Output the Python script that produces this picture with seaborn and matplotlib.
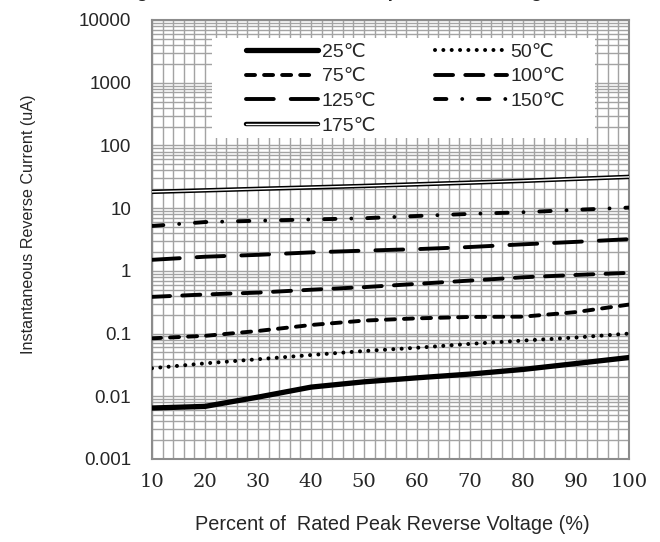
import numpy as np
import pandas as pd
import matplotlib
matplotlib.use("Agg")
import matplotlib.pyplot as plt
import matplotlib.patheffects as pe
from matplotlib.patches import Rectangle
from matplotlib.ticker import LogLocator, NullFormatter, FixedLocator
import seaborn as sns

# ---------------- data ----------------
pct = [10, 20, 30, 40, 50, 60, 70, 80, 90, 100]
i25 = [0.0065, 0.0069, 0.0097, 0.0140, 0.0170, 0.0197, 0.0226, 0.0268, 0.0333, 0.0415]
i50 = [0.028, 0.0335, 0.039, 0.0455, 0.0527, 0.0594, 0.0685, 0.0773, 0.0865, 0.100]
i75 = [0.084, 0.092, 0.110, 0.137, 0.161, 0.175, 0.184, 0.186, 0.220, 0.290]
i100 = [0.385, 0.42, 0.45, 0.50, 0.55, 0.62, 0.70, 0.79, 0.86, 0.93]
i125 = [1.50, 1.68, 1.80, 1.97, 2.10, 2.22, 2.40, 2.65, 2.90, 3.20]
i150 = [5.2, 6.0, 6.3, 6.6, 6.9, 7.5, 8.1, 8.6, 9.4, 10.2]
i175 = [18.2, 19.2, 20.3, 21.4, 22.6, 24.0, 25.5, 27.2, 29.3, 31.5]
series_labels = ["25℃", "50℃", "75℃", "100℃", "125℃", "150℃", "175℃"]
series_values = [i25, i50, i75, i100, i125, i150, i175]
ytick_vals = [0.001, 0.01, 0.1, 1, 10, 100, 1000, 10000]
ytick_labels = ["0.001", "0.01", "0.1", "1", "10", "100", "1000", "10000"]
xtick_vals = [10, 20, 30, 40, 50, 60, 70, 80, 90, 100]
title_text = "Fig.4 Reverse Current vs. Temperature & Voltage"
xlabel_text = "Percent of  Rated Peak Reverse Voltage (%)"
ylabel_text = "Instantaneous Reverse Current (uA)"

# ---------------- style ----------------
sns.set_style("white")
plt.rcParams["font.family"] = ["Liberation Sans", "DejaVu Sans"]
plt.rcParams["lines.scale_dashes"] = False

styles = {
    "25℃": dict(lw=3.8, ls="-"),
    "50℃": dict(lw=2.9, ls=(0, (0.01, 6.0))),
    "75℃": dict(lw=2.8, ls=(0, (6.5, 6.5))),
    "100℃": dict(lw=2.8, ls=(0, (13, 8.8))),
    "125℃": dict(lw=2.8, ls=(0, (20, 12.2))),
    "150℃": dict(lw=2.8, ls=(0, (8.2, 11.4, 0.01, 11.4))),
    "175℃": dict(lw=1.0, ls="-"),
}

fig = plt.figure(figsize=(6.6, 5.42), dpi=100)
ax = fig.add_axes([152 / 660, 1 - 459 / 542, 477 / 660, 439 / 542])

grid_col = "#a3a3a3"
for lab, vals in zip(series_labels, series_values):
    df = pd.DataFrame({"pct": pct, "cur": vals})
    st = styles[lab]
    if lab == "175℃":
        sns.lineplot(data=df, x="pct", y="cur", ax=ax, color="white", lw=st["lw"],
                     label=lab, zorder=3,
                     path_effects=[pe.Stroke(linewidth=3.2, foreground="black"), pe.Normal()])
    else:
        sns.lineplot(data=df, x="pct", y="cur", ax=ax, color="black", lw=st["lw"],
                     linestyle=st["ls"], label=lab, zorder=3,
                     dash_capstyle="round", solid_capstyle="round")

ax.set_yscale("log")
ax.set_xlim(10, 100)
ax.set_ylim(0.001, 10000)

ax.set_yticks(ytick_vals)
ax.set_yticklabels(ytick_labels)
ax.yaxis.set_minor_locator(LogLocator(base=10, subs=np.arange(2, 10)))
ax.yaxis.set_minor_formatter(NullFormatter())
ax.set_xticks(xtick_vals)
ax.set_xticklabels([str(v) for v in xtick_vals])
ax.xaxis.set_minor_locator(FixedLocator(np.arange(10, 101, 2)))

ax.grid(which="both", color=grid_col, lw=1.0)
ax.set_axisbelow(True)
ax.tick_params(axis="y", which="major", length=5, color=grid_col, width=1.2,
               labelsize=13.5, pad=10)
ax.tick_params(axis="y", which="minor", length=0)
ax.tick_params(axis="x", which="both", length=0, labelsize=14, pad=10)
for t in ax.get_xticklabels():
    t.set_family(["DejaVu Serif"])
for s in ax.spines.values():
    s.set_color("#8c8c8c")
    s.set_linewidth(1.5)

ax.set_xlabel(xlabel_text, fontsize=14.3, labelpad=0)
ax.xaxis.set_label_coords((392 - 152) / 477, (459 - 525) / 439)
ax.xaxis.label.set_va("center")
ax.set_ylabel(ylabel_text, fontsize=11.6)
ax.yaxis.set_label_coords((28 - 152) / 477, (459 - 224) / 439)
ax.yaxis.label.set_va("center")

# white legend background
ax.add_patch(Rectangle((0.126, 0.731), 0.803, 0.228, transform=ax.transAxes,
                       facecolor="white", edgecolor="none", zorder=1))

handles, labels = ax.get_legend_handles_labels()
order = ["25℃", "75℃", "125℃", "175℃", "50℃", "100℃", "150℃"]
hmap = dict(zip(labels, handles))
leg = ax.legend([hmap[k] for k in order], order, ncol=2, loc="upper left",
                bbox_to_anchor=((246 - 152) / 477, (459 - 43) / 439),
                frameon=False, fontsize=14, handlelength=3.7, handletextpad=0.2,
                columnspacing=3.0, labelspacing=0.37, borderpad=0, borderaxespad=0)
leg.set_zorder(5)

fig.text(119.6 / 660, 1 + 3.0 / 542, title_text, fontsize=13.5, fontweight="bold",
         ha="left", va="baseline")

fig.savefig("out.png", dpi=100)
